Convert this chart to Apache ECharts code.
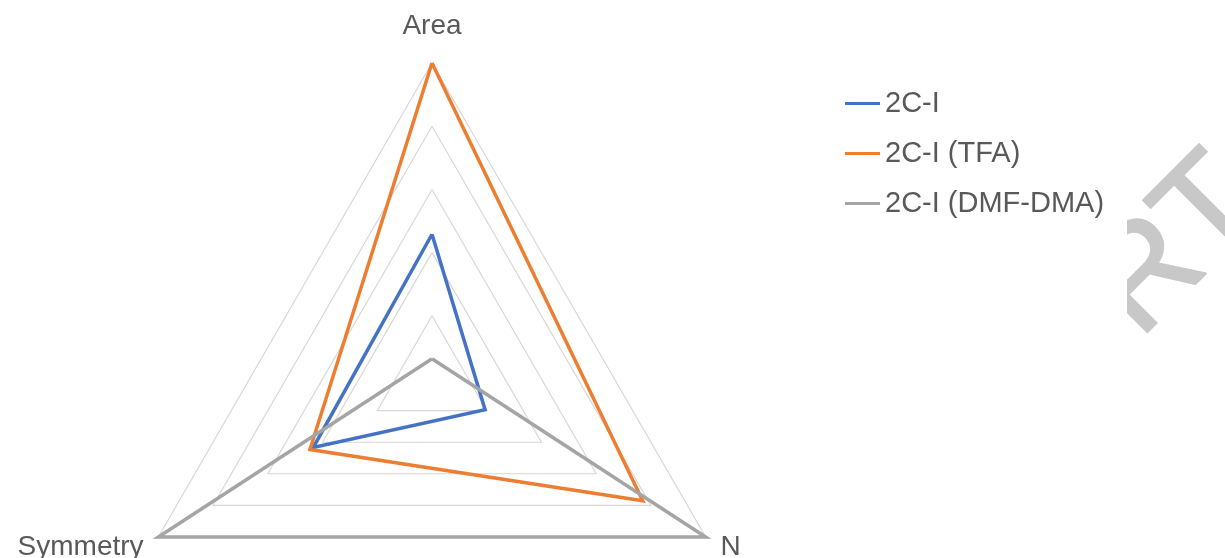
<!DOCTYPE html>
<html>
<head>
<meta charset="utf-8">
<script src="https://cdn.jsdelivr.net/npm/echarts@6/dist/echarts.min.js"></script>
<style>
  html, body { margin: 0; padding: 0; background: #ffffff; }
  #chart { width: 1225px; height: 558px; }
</style>
</head>
<body>
<div id="chart"></div>
<script>
// Radar indicators (ECharts places them counter-clockwise from the top)
const indicatorNames = ['Area', 'Symmetry', 'N'];
const axisMax = 5;

// Series
const seriesNames = ['2C-I', '2C-I (TFA)', '2C-I (DMF-DMA)'];
const seriesColors = ['#4472C4', '#ED7D31', '#A5A5A5'];
const values2CI = [2.29, 2.17, 0.97];
const values2CITFA = [5, 2.23, 3.85];
const values2CIDMF = [0.32, 5, 5];

const seriesValues = [values2CI, values2CITFA, values2CIDMF];
const textColor = '#595959';
const fontFamily = '"Liberation Sans", Arial, sans-serif';

const chart = echarts.init(document.getElementById('chart'), null, { renderer: 'canvas' });

chart.setOption({
  backgroundColor: '#ffffff',
  animation: false,
  legend: {
    orient: 'vertical',
    left: 845,
    top: 89,
    padding: 0,
    itemGap: 21,
    itemWidth: 35,
    itemHeight: 3,
    icon: 'rect',
    textStyle: { color: textColor, fontSize: 29, fontFamily: fontFamily },
    data: seriesNames
  },
  radar: {
    center: [432, 379],
    radius: 316,
    startAngle: 90,
    shape: 'polygon',
    splitNumber: 5,
    nameGap: 17,
    axisName: {
      color: textColor,
      fontSize: 28,
      fontFamily: fontFamily,
      formatter: function (name) {
        return name === 'Area' ? '{top|' + name + '}' : '{side|' + name + '}';
      },
      rich: {
        top: { color: textColor, fontSize: 28, fontFamily: fontFamily, padding: [0, 0, 6, 0] },
        side: { color: textColor, fontSize: 28, fontFamily: fontFamily, padding: [4, 0, 0, 0] }
      }
    },
    indicator: indicatorNames.map(function (n) { return { name: n, min: 0, max: axisMax }; }),
    axisLine: { show: false },
    axisTick: { show: false },
    axisLabel: { show: false },
    splitArea: { show: false },
    splitLine: { lineStyle: { color: '#D6D6D6', width: 1.1 } }
  },
  series: [{
    type: 'radar',
    symbol: 'none',
    data: seriesNames.map(function (name, i) {
      return {
        name: name,
        value: seriesValues[i],
        itemStyle: { color: seriesColors[i] },
        lineStyle: { color: seriesColors[i], width: 3.5, join: 'miter', miterLimit: 10 }
      };
    })
  }],
  graphic: [
    {
      // faint diagonal lettering at the right edge
      type: 'text',
      z: -10,
      x: 1112,
      y: 313,
      rotation: Math.PI / 4,
      style: {
        text: 'RT',
        fill: '#C8C8C8',
        font: '140px "Liberation Sans", Arial, sans-serif',
        textAlign: 'left',
        verticalAlign: 'middle',
        textVerticalAlign: 'middle',
        stroke: '#C8C8C8',
        lineWidth: 2
      }
    },
    {
      type: 'rect',
      z: -5,
      shape: { x: 0, y: 0, width: 1127, height: 558 },
      style: { fill: '#ffffff' }
    }
  ]
});
</script>
</body>
</html>
